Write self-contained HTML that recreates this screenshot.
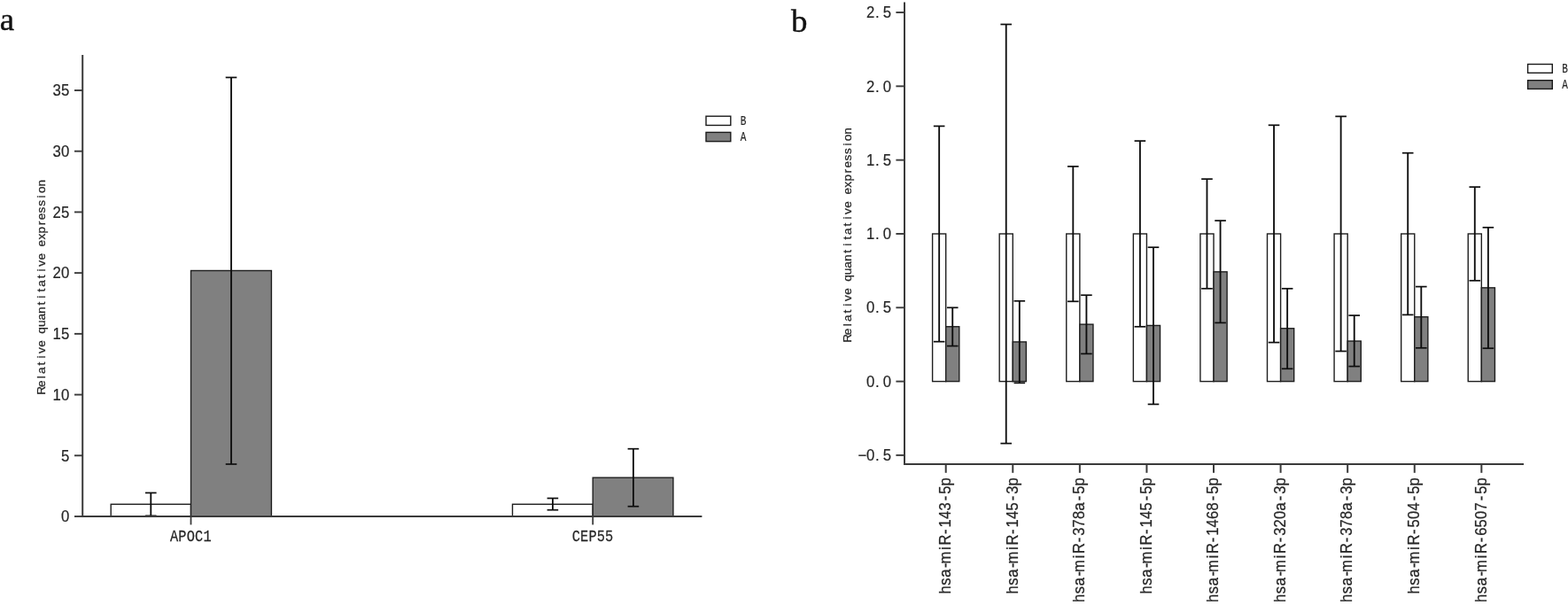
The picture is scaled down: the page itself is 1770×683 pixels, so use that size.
<!DOCTYPE html>
<html lang="en">
<head>
<meta charset="utf-8">
<title>Relative quantitative expression</title>
<style>
html,body{margin:0;padding:0;background:#fff;}
body{width:1770px;height:683px;overflow:hidden;}
svg{display:block;}
text{white-space:pre;}
</style>
</head>
<body>
<svg width="1770" height="683" viewBox="0 0 1770 683">
<rect x="0" y="0" width="1770" height="683" fill="#ffffff"/>
<text x="-0.3" y="33.5" font-family='"Liberation Serif", serif' font-size="36.8" fill="#111" stroke="#111" stroke-width="0.4">a</text>
<text transform="translate(892.9 35.9) scale(1.04 1)" x="0" y="0" font-family='"Liberation Serif", serif' font-size="35.5" fill="#111" stroke="#111" stroke-width="0.4">b</text>
<rect x="125.2" y="569.26" width="90.3" height="13.74" fill="#fff" stroke="#1e1e1e" stroke-width="1.4"/>
<rect x="215.5" y="305.5" width="90.9" height="277.5" fill="#808080" stroke="#1e1e1e" stroke-width="1.4"/>
<rect x="578.5" y="569.26" width="90.7" height="13.74" fill="#fff" stroke="#1e1e1e" stroke-width="1.4"/>
<rect x="669.2" y="539.2" width="90.7" height="43.8" fill="#808080" stroke="#1e1e1e" stroke-width="1.4"/>
<line x1="170.3" y1="556.4" x2="170.3" y2="582.3" stroke="#0d0d0d" stroke-width="1.85" stroke-linecap="butt"/>
<line x1="164" y1="556.4" x2="176.6" y2="556.4" stroke="#0d0d0d" stroke-width="1.7" stroke-linecap="butt"/>
<line x1="164" y1="582.3" x2="176.6" y2="582.3" stroke="#0d0d0d" stroke-width="1.7" stroke-linecap="butt"/>
<line x1="261" y1="87.45" x2="261" y2="524" stroke="#0d0d0d" stroke-width="1.85" stroke-linecap="butt"/>
<line x1="254.7" y1="87.45" x2="267.3" y2="87.45" stroke="#0d0d0d" stroke-width="1.7" stroke-linecap="butt"/>
<line x1="254.7" y1="524" x2="267.3" y2="524" stroke="#0d0d0d" stroke-width="1.7" stroke-linecap="butt"/>
<line x1="623.9" y1="562.5" x2="623.9" y2="575.7" stroke="#0d0d0d" stroke-width="1.85" stroke-linecap="butt"/>
<line x1="617.6" y1="562.5" x2="630.2" y2="562.5" stroke="#0d0d0d" stroke-width="1.7" stroke-linecap="butt"/>
<line x1="617.6" y1="575.7" x2="630.2" y2="575.7" stroke="#0d0d0d" stroke-width="1.7" stroke-linecap="butt"/>
<line x1="714.9" y1="506.7" x2="714.9" y2="571.7" stroke="#0d0d0d" stroke-width="1.85" stroke-linecap="butt"/>
<line x1="708.6" y1="506.7" x2="721.2" y2="506.7" stroke="#0d0d0d" stroke-width="1.7" stroke-linecap="butt"/>
<line x1="708.6" y1="571.7" x2="721.2" y2="571.7" stroke="#0d0d0d" stroke-width="1.7" stroke-linecap="butt"/>
<line x1="93.2" y1="62.1" x2="93.2" y2="584" stroke="#3a3a3a" stroke-width="2" stroke-linecap="butt"/>
<line x1="92.2" y1="583" x2="792.4" y2="583" stroke="#3a3a3a" stroke-width="2" stroke-linecap="butt"/>
<line x1="84" y1="583" x2="93.2" y2="583" stroke="#3a3a3a" stroke-width="1.9" stroke-linecap="butt"/>
<text transform="translate(78.3 589.35) scale(0.93 1)" x="-5.03" y="0" font-family='"Liberation Sans", sans-serif' font-size="18" fill="#262626" stroke="#262626" stroke-width="0.2" text-anchor="middle">0</text>
<line x1="84" y1="514.29" x2="93.2" y2="514.29" stroke="#3a3a3a" stroke-width="1.9" stroke-linecap="butt"/>
<text transform="translate(78.3 520.64) scale(0.93 1)" x="-5.03" y="0" font-family='"Liberation Sans", sans-serif' font-size="18" fill="#262626" stroke="#262626" stroke-width="0.2" text-anchor="middle">5</text>
<line x1="84" y1="445.57" x2="93.2" y2="445.57" stroke="#3a3a3a" stroke-width="1.9" stroke-linecap="butt"/>
<text transform="translate(78.3 451.92) scale(0.93 1)" x="-15.08 -5.03" y="0" font-family='"Liberation Sans", sans-serif' font-size="18" fill="#262626" stroke="#262626" stroke-width="0.2" text-anchor="middle">10</text>
<line x1="84" y1="376.86" x2="93.2" y2="376.86" stroke="#3a3a3a" stroke-width="1.9" stroke-linecap="butt"/>
<text transform="translate(78.3 383.21) scale(0.93 1)" x="-15.08 -5.03" y="0" font-family='"Liberation Sans", sans-serif' font-size="18" fill="#262626" stroke="#262626" stroke-width="0.2" text-anchor="middle">15</text>
<line x1="84" y1="308.14" x2="93.2" y2="308.14" stroke="#3a3a3a" stroke-width="1.9" stroke-linecap="butt"/>
<text transform="translate(78.3 314.49) scale(0.93 1)" x="-15.08 -5.03" y="0" font-family='"Liberation Sans", sans-serif' font-size="18" fill="#262626" stroke="#262626" stroke-width="0.2" text-anchor="middle">20</text>
<line x1="84" y1="239.43" x2="93.2" y2="239.43" stroke="#3a3a3a" stroke-width="1.9" stroke-linecap="butt"/>
<text transform="translate(78.3 245.78) scale(0.93 1)" x="-15.08 -5.03" y="0" font-family='"Liberation Sans", sans-serif' font-size="18" fill="#262626" stroke="#262626" stroke-width="0.2" text-anchor="middle">25</text>
<line x1="84" y1="170.71" x2="93.2" y2="170.71" stroke="#3a3a3a" stroke-width="1.9" stroke-linecap="butt"/>
<text transform="translate(78.3 177.06) scale(0.93 1)" x="-15.08 -5.03" y="0" font-family='"Liberation Sans", sans-serif' font-size="18" fill="#262626" stroke="#262626" stroke-width="0.2" text-anchor="middle">30</text>
<line x1="84" y1="102" x2="93.2" y2="102" stroke="#3a3a3a" stroke-width="1.9" stroke-linecap="butt"/>
<text transform="translate(78.3 108.35) scale(0.93 1)" x="-15.08 -5.03" y="0" font-family='"Liberation Sans", sans-serif' font-size="18" fill="#262626" stroke="#262626" stroke-width="0.2" text-anchor="middle">35</text>
<line x1="215.5" y1="583" x2="215.5" y2="592.4" stroke="#3a3a3a" stroke-width="1.8" stroke-linecap="butt"/>
<text transform="translate(215.3 610.7) scale(0.8 1)" x="-23.37 -11.69 0 11.69 23.37" y="0" font-family='"Liberation Mono", monospace' font-size="19.1" fill="#262626" stroke="#262626" stroke-width="0.25" text-anchor="middle">APOC1</text>
<line x1="669.2" y1="583" x2="669.2" y2="592.4" stroke="#3a3a3a" stroke-width="1.8" stroke-linecap="butt"/>
<text transform="translate(669 610.7) scale(0.8 1)" x="-23.37 -11.69 0 11.69 23.37" y="0" font-family='"Liberation Mono", monospace' font-size="19.1" fill="#262626" stroke="#262626" stroke-width="0.25" text-anchor="middle">CEP55</text>
<text transform="translate(51.2 323.8) rotate(-90)" x="-117.02 -109.47 -101.92 -94.38 -86.82 -79.28 -71.72 -64.17 -56.62 -49.08 -41.53 -33.97 -26.42 -18.88 -11.33 -3.78 3.78 11.33 18.87 26.42 33.98 41.52 49.08 56.62 64.17 71.73 79.27 86.83 94.37 101.92 109.48 117.02" y="0" font-family='"Liberation Sans", sans-serif' font-size="13.6" fill="#262626" stroke="#262626" stroke-width="0.25" text-anchor="middle">Relative quantitative expression</text>
<rect x="797" y="131.2" width="27.8" height="10.25" fill="#fff" stroke="#1a1a1a" stroke-width="1.4"/>
<rect x="797" y="149.4" width="27.8" height="10.25" fill="#808080" stroke="#1a1a1a" stroke-width="1.4"/>
<text transform="translate(835.7 140.6) scale(0.8 1)" x="4.19" y="0" font-family='"Liberation Mono", monospace' font-size="13.8" fill="#262626" stroke="#262626" stroke-width="0.15" text-anchor="middle">B</text>
<text transform="translate(835.7 159.2) scale(0.8 1)" x="4.19" y="0" font-family='"Liberation Mono", monospace' font-size="13.8" fill="#262626" stroke="#262626" stroke-width="0.15" text-anchor="middle">A</text>
<rect x="1052.6" y="263.97" width="15.1" height="166.63" fill="#fff" stroke="#1e1e1e" stroke-width="1.4"/>
<rect x="1067.7" y="368.75" width="15.1" height="61.85" fill="#808080" stroke="#1e1e1e" stroke-width="1.4"/>
<line x1="1060.15" y1="142.4" x2="1060.15" y2="385.7" stroke="#0d0d0d" stroke-width="1.85" stroke-linecap="butt"/>
<line x1="1053.85" y1="142.4" x2="1066.45" y2="142.4" stroke="#0d0d0d" stroke-width="1.7" stroke-linecap="butt"/>
<line x1="1053.85" y1="385.7" x2="1066.45" y2="385.7" stroke="#0d0d0d" stroke-width="1.7" stroke-linecap="butt"/>
<line x1="1075.25" y1="347.3" x2="1075.25" y2="390.6" stroke="#0d0d0d" stroke-width="1.85" stroke-linecap="butt"/>
<line x1="1068.95" y1="347.3" x2="1081.55" y2="347.3" stroke="#0d0d0d" stroke-width="1.7" stroke-linecap="butt"/>
<line x1="1068.95" y1="390.6" x2="1081.55" y2="390.6" stroke="#0d0d0d" stroke-width="1.7" stroke-linecap="butt"/>
<line x1="1067.7" y1="524.1" x2="1067.7" y2="533.8" stroke="#3a3a3a" stroke-width="2" stroke-linecap="butt"/>
<text transform="translate(1073 539.1) rotate(-90) scale(0.94 1)" x="-135 -125 -115 -105.6 -96.3 -85 -75 -65 -55 -45 -35 -25 -15 -5" y="0" font-family='"Liberation Sans", sans-serif' font-size="17.6" fill="#262626" stroke="#262626" stroke-width="0.25" text-anchor="middle">hsa-miR-143-5p</text>
<rect x="1128.18" y="263.97" width="15.1" height="166.63" fill="#fff" stroke="#1e1e1e" stroke-width="1.4"/>
<rect x="1143.28" y="385.95" width="15.1" height="44.65" fill="#808080" stroke="#1e1e1e" stroke-width="1.4"/>
<line x1="1135.73" y1="27.5" x2="1135.73" y2="500.6" stroke="#0d0d0d" stroke-width="1.85" stroke-linecap="butt"/>
<line x1="1129.43" y1="27.5" x2="1142.03" y2="27.5" stroke="#0d0d0d" stroke-width="1.7" stroke-linecap="butt"/>
<line x1="1129.43" y1="500.6" x2="1142.03" y2="500.6" stroke="#0d0d0d" stroke-width="1.7" stroke-linecap="butt"/>
<line x1="1150.83" y1="339.8" x2="1150.83" y2="432.3" stroke="#0d0d0d" stroke-width="1.85" stroke-linecap="butt"/>
<line x1="1144.53" y1="339.8" x2="1157.13" y2="339.8" stroke="#0d0d0d" stroke-width="1.7" stroke-linecap="butt"/>
<line x1="1144.53" y1="432.3" x2="1157.13" y2="432.3" stroke="#0d0d0d" stroke-width="1.7" stroke-linecap="butt"/>
<line x1="1143.28" y1="524.1" x2="1143.28" y2="533.8" stroke="#3a3a3a" stroke-width="2" stroke-linecap="butt"/>
<text transform="translate(1148.58 539.1) rotate(-90) scale(0.94 1)" x="-135 -125 -115 -105.6 -96.3 -85 -75 -65 -55 -45 -35 -25 -15 -5" y="0" font-family='"Liberation Sans", sans-serif' font-size="17.6" fill="#262626" stroke="#262626" stroke-width="0.25" text-anchor="middle">hsa-miR-145-3p</text>
<rect x="1203.76" y="263.97" width="15.1" height="166.63" fill="#fff" stroke="#1e1e1e" stroke-width="1.4"/>
<rect x="1218.86" y="366.15" width="15.1" height="64.45" fill="#808080" stroke="#1e1e1e" stroke-width="1.4"/>
<line x1="1211.31" y1="187.9" x2="1211.31" y2="340.3" stroke="#0d0d0d" stroke-width="1.85" stroke-linecap="butt"/>
<line x1="1205.01" y1="187.9" x2="1217.61" y2="187.9" stroke="#0d0d0d" stroke-width="1.7" stroke-linecap="butt"/>
<line x1="1205.01" y1="340.3" x2="1217.61" y2="340.3" stroke="#0d0d0d" stroke-width="1.7" stroke-linecap="butt"/>
<line x1="1226.41" y1="333.2" x2="1226.41" y2="399.4" stroke="#0d0d0d" stroke-width="1.85" stroke-linecap="butt"/>
<line x1="1220.11" y1="333.2" x2="1232.71" y2="333.2" stroke="#0d0d0d" stroke-width="1.7" stroke-linecap="butt"/>
<line x1="1220.11" y1="399.4" x2="1232.71" y2="399.4" stroke="#0d0d0d" stroke-width="1.7" stroke-linecap="butt"/>
<line x1="1218.86" y1="524.1" x2="1218.86" y2="533.8" stroke="#3a3a3a" stroke-width="2" stroke-linecap="butt"/>
<text transform="translate(1224.16 539.1) rotate(-90) scale(0.94 1)" x="-145 -135 -125 -115.6 -106.3 -95 -85 -75 -65 -55 -45 -35 -25 -15 -5" y="0" font-family='"Liberation Sans", sans-serif' font-size="17.6" fill="#262626" stroke="#262626" stroke-width="0.25" text-anchor="middle">hsa-miR-378a-5p</text>
<rect x="1279.34" y="263.97" width="15.1" height="166.63" fill="#fff" stroke="#1e1e1e" stroke-width="1.4"/>
<rect x="1294.44" y="367.45" width="15.1" height="63.15" fill="#808080" stroke="#1e1e1e" stroke-width="1.4"/>
<line x1="1286.89" y1="159.1" x2="1286.89" y2="368.8" stroke="#0d0d0d" stroke-width="1.85" stroke-linecap="butt"/>
<line x1="1280.59" y1="159.1" x2="1293.19" y2="159.1" stroke="#0d0d0d" stroke-width="1.7" stroke-linecap="butt"/>
<line x1="1280.59" y1="368.8" x2="1293.19" y2="368.8" stroke="#0d0d0d" stroke-width="1.7" stroke-linecap="butt"/>
<line x1="1301.99" y1="279.2" x2="1301.99" y2="456.4" stroke="#0d0d0d" stroke-width="1.85" stroke-linecap="butt"/>
<line x1="1295.69" y1="279.2" x2="1308.29" y2="279.2" stroke="#0d0d0d" stroke-width="1.7" stroke-linecap="butt"/>
<line x1="1295.69" y1="456.4" x2="1308.29" y2="456.4" stroke="#0d0d0d" stroke-width="1.7" stroke-linecap="butt"/>
<line x1="1294.44" y1="524.1" x2="1294.44" y2="533.8" stroke="#3a3a3a" stroke-width="2" stroke-linecap="butt"/>
<text transform="translate(1299.74 539.1) rotate(-90) scale(0.94 1)" x="-135 -125 -115 -105.6 -96.3 -85 -75 -65 -55 -45 -35 -25 -15 -5" y="0" font-family='"Liberation Sans", sans-serif' font-size="17.6" fill="#262626" stroke="#262626" stroke-width="0.25" text-anchor="middle">hsa-miR-145-5p</text>
<rect x="1354.92" y="263.97" width="15.1" height="166.63" fill="#fff" stroke="#1e1e1e" stroke-width="1.4"/>
<rect x="1370.02" y="306.85" width="15.1" height="123.75" fill="#808080" stroke="#1e1e1e" stroke-width="1.4"/>
<line x1="1362.47" y1="202.1" x2="1362.47" y2="325.8" stroke="#0d0d0d" stroke-width="1.85" stroke-linecap="butt"/>
<line x1="1356.17" y1="202.1" x2="1368.77" y2="202.1" stroke="#0d0d0d" stroke-width="1.7" stroke-linecap="butt"/>
<line x1="1356.17" y1="325.8" x2="1368.77" y2="325.8" stroke="#0d0d0d" stroke-width="1.7" stroke-linecap="butt"/>
<line x1="1377.57" y1="249.1" x2="1377.57" y2="364.4" stroke="#0d0d0d" stroke-width="1.85" stroke-linecap="butt"/>
<line x1="1371.27" y1="249.1" x2="1383.87" y2="249.1" stroke="#0d0d0d" stroke-width="1.7" stroke-linecap="butt"/>
<line x1="1371.27" y1="364.4" x2="1383.87" y2="364.4" stroke="#0d0d0d" stroke-width="1.7" stroke-linecap="butt"/>
<line x1="1370.02" y1="524.1" x2="1370.02" y2="533.8" stroke="#3a3a3a" stroke-width="2" stroke-linecap="butt"/>
<text transform="translate(1375.32 539.1) rotate(-90) scale(0.94 1)" x="-145 -135 -125 -115.6 -106.3 -95 -85 -75 -65 -55 -45 -35 -25 -15 -5" y="0" font-family='"Liberation Sans", sans-serif' font-size="17.6" fill="#262626" stroke="#262626" stroke-width="0.25" text-anchor="middle">hsa-miR-1468-5p</text>
<rect x="1430.5" y="263.97" width="15.1" height="166.63" fill="#fff" stroke="#1e1e1e" stroke-width="1.4"/>
<rect x="1445.6" y="370.75" width="15.1" height="59.85" fill="#808080" stroke="#1e1e1e" stroke-width="1.4"/>
<line x1="1438.05" y1="141.3" x2="1438.05" y2="386.6" stroke="#0d0d0d" stroke-width="1.85" stroke-linecap="butt"/>
<line x1="1431.75" y1="141.3" x2="1444.35" y2="141.3" stroke="#0d0d0d" stroke-width="1.7" stroke-linecap="butt"/>
<line x1="1431.75" y1="386.6" x2="1444.35" y2="386.6" stroke="#0d0d0d" stroke-width="1.7" stroke-linecap="butt"/>
<line x1="1453.15" y1="325.8" x2="1453.15" y2="416.3" stroke="#0d0d0d" stroke-width="1.85" stroke-linecap="butt"/>
<line x1="1446.85" y1="325.8" x2="1459.45" y2="325.8" stroke="#0d0d0d" stroke-width="1.7" stroke-linecap="butt"/>
<line x1="1446.85" y1="416.3" x2="1459.45" y2="416.3" stroke="#0d0d0d" stroke-width="1.7" stroke-linecap="butt"/>
<line x1="1445.6" y1="524.1" x2="1445.6" y2="533.8" stroke="#3a3a3a" stroke-width="2" stroke-linecap="butt"/>
<text transform="translate(1450.9 539.1) rotate(-90) scale(0.94 1)" x="-145 -135 -125 -115.6 -106.3 -95 -85 -75 -65 -55 -45 -35 -25 -15 -5" y="0" font-family='"Liberation Sans", sans-serif' font-size="17.6" fill="#262626" stroke="#262626" stroke-width="0.25" text-anchor="middle">hsa-miR-320a-3p</text>
<rect x="1506.08" y="263.97" width="15.1" height="166.63" fill="#fff" stroke="#1e1e1e" stroke-width="1.4"/>
<rect x="1521.18" y="385.05" width="15.1" height="45.55" fill="#808080" stroke="#1e1e1e" stroke-width="1.4"/>
<line x1="1513.63" y1="131.4" x2="1513.63" y2="396.5" stroke="#0d0d0d" stroke-width="1.85" stroke-linecap="butt"/>
<line x1="1507.33" y1="131.4" x2="1519.93" y2="131.4" stroke="#0d0d0d" stroke-width="1.7" stroke-linecap="butt"/>
<line x1="1507.33" y1="396.5" x2="1519.93" y2="396.5" stroke="#0d0d0d" stroke-width="1.7" stroke-linecap="butt"/>
<line x1="1528.73" y1="356.1" x2="1528.73" y2="413.6" stroke="#0d0d0d" stroke-width="1.85" stroke-linecap="butt"/>
<line x1="1522.43" y1="356.1" x2="1535.03" y2="356.1" stroke="#0d0d0d" stroke-width="1.7" stroke-linecap="butt"/>
<line x1="1522.43" y1="413.6" x2="1535.03" y2="413.6" stroke="#0d0d0d" stroke-width="1.7" stroke-linecap="butt"/>
<line x1="1521.18" y1="524.1" x2="1521.18" y2="533.8" stroke="#3a3a3a" stroke-width="2" stroke-linecap="butt"/>
<text transform="translate(1526.48 539.1) rotate(-90) scale(0.94 1)" x="-145 -135 -125 -115.6 -106.3 -95 -85 -75 -65 -55 -45 -35 -25 -15 -5" y="0" font-family='"Liberation Sans", sans-serif' font-size="17.6" fill="#262626" stroke="#262626" stroke-width="0.25" text-anchor="middle">hsa-miR-378a-3p</text>
<rect x="1581.66" y="263.97" width="15.1" height="166.63" fill="#fff" stroke="#1e1e1e" stroke-width="1.4"/>
<rect x="1596.76" y="357.75" width="15.1" height="72.85" fill="#808080" stroke="#1e1e1e" stroke-width="1.4"/>
<line x1="1589.21" y1="172.7" x2="1589.21" y2="355.4" stroke="#0d0d0d" stroke-width="1.85" stroke-linecap="butt"/>
<line x1="1582.91" y1="172.7" x2="1595.51" y2="172.7" stroke="#0d0d0d" stroke-width="1.7" stroke-linecap="butt"/>
<line x1="1582.91" y1="355.4" x2="1595.51" y2="355.4" stroke="#0d0d0d" stroke-width="1.7" stroke-linecap="butt"/>
<line x1="1604.31" y1="323.6" x2="1604.31" y2="392.8" stroke="#0d0d0d" stroke-width="1.85" stroke-linecap="butt"/>
<line x1="1598.01" y1="323.6" x2="1610.61" y2="323.6" stroke="#0d0d0d" stroke-width="1.7" stroke-linecap="butt"/>
<line x1="1598.01" y1="392.8" x2="1610.61" y2="392.8" stroke="#0d0d0d" stroke-width="1.7" stroke-linecap="butt"/>
<line x1="1596.76" y1="524.1" x2="1596.76" y2="533.8" stroke="#3a3a3a" stroke-width="2" stroke-linecap="butt"/>
<text transform="translate(1602.06 539.1) rotate(-90) scale(0.94 1)" x="-135 -125 -115 -105.6 -96.3 -85 -75 -65 -55 -45 -35 -25 -15 -5" y="0" font-family='"Liberation Sans", sans-serif' font-size="17.6" fill="#262626" stroke="#262626" stroke-width="0.25" text-anchor="middle">hsa-miR-504-5p</text>
<rect x="1657.24" y="263.97" width="15.1" height="166.63" fill="#fff" stroke="#1e1e1e" stroke-width="1.4"/>
<rect x="1672.34" y="324.85" width="15.1" height="105.75" fill="#808080" stroke="#1e1e1e" stroke-width="1.4"/>
<line x1="1664.79" y1="211.1" x2="1664.79" y2="316.8" stroke="#0d0d0d" stroke-width="1.85" stroke-linecap="butt"/>
<line x1="1658.49" y1="211.1" x2="1671.09" y2="211.1" stroke="#0d0d0d" stroke-width="1.7" stroke-linecap="butt"/>
<line x1="1658.49" y1="316.8" x2="1671.09" y2="316.8" stroke="#0d0d0d" stroke-width="1.7" stroke-linecap="butt"/>
<line x1="1679.89" y1="256.8" x2="1679.89" y2="393.2" stroke="#0d0d0d" stroke-width="1.85" stroke-linecap="butt"/>
<line x1="1673.59" y1="256.8" x2="1686.19" y2="256.8" stroke="#0d0d0d" stroke-width="1.7" stroke-linecap="butt"/>
<line x1="1673.59" y1="393.2" x2="1686.19" y2="393.2" stroke="#0d0d0d" stroke-width="1.7" stroke-linecap="butt"/>
<line x1="1672.34" y1="524.1" x2="1672.34" y2="533.8" stroke="#3a3a3a" stroke-width="2" stroke-linecap="butt"/>
<text transform="translate(1677.64 539.1) rotate(-90) scale(0.94 1)" x="-145 -135 -125 -115.6 -106.3 -95 -85 -75 -65 -55 -45 -35 -25 -15 -5" y="0" font-family='"Liberation Sans", sans-serif' font-size="17.6" fill="#262626" stroke="#262626" stroke-width="0.25" text-anchor="middle">hsa-miR-6507-5p</text>
<line x1="1021" y1="2.5" x2="1021" y2="525.1" stroke="#3a3a3a" stroke-width="2" stroke-linecap="butt"/>
<line x1="1020" y1="524.1" x2="1720" y2="524.1" stroke="#3a3a3a" stroke-width="2" stroke-linecap="butt"/>
<line x1="1011.4" y1="513.91" x2="1021" y2="513.91" stroke="#3a3a3a" stroke-width="1.9" stroke-linecap="butt"/>
<text transform="translate(1006.1 520.12) scale(0.93 1)" x="-35.19 -25.13 -17.09 -5.03" y="0" font-family='"Liberation Sans", sans-serif' font-size="18" fill="#262626" stroke="#262626" stroke-width="0.2" text-anchor="middle">−0.5</text>
<line x1="1011.4" y1="430.6" x2="1021" y2="430.6" stroke="#3a3a3a" stroke-width="1.9" stroke-linecap="butt"/>
<text transform="translate(1006.1 436.8) scale(0.93 1)" x="-25.13 -17.09 -5.03" y="0" font-family='"Liberation Sans", sans-serif' font-size="18" fill="#262626" stroke="#262626" stroke-width="0.2" text-anchor="middle">0.0</text>
<line x1="1011.4" y1="347.29" x2="1021" y2="347.29" stroke="#3a3a3a" stroke-width="1.9" stroke-linecap="butt"/>
<text transform="translate(1006.1 353.49) scale(0.93 1)" x="-25.13 -17.09 -5.03" y="0" font-family='"Liberation Sans", sans-serif' font-size="18" fill="#262626" stroke="#262626" stroke-width="0.2" text-anchor="middle">0.5</text>
<line x1="1011.4" y1="263.97" x2="1021" y2="263.97" stroke="#3a3a3a" stroke-width="1.9" stroke-linecap="butt"/>
<text transform="translate(1006.1 270.17) scale(0.93 1)" x="-25.13 -17.09 -5.03" y="0" font-family='"Liberation Sans", sans-serif' font-size="18" fill="#262626" stroke="#262626" stroke-width="0.2" text-anchor="middle">1.0</text>
<line x1="1011.4" y1="180.66" x2="1021" y2="180.66" stroke="#3a3a3a" stroke-width="1.9" stroke-linecap="butt"/>
<text transform="translate(1006.1 186.86) scale(0.93 1)" x="-25.13 -17.09 -5.03" y="0" font-family='"Liberation Sans", sans-serif' font-size="18" fill="#262626" stroke="#262626" stroke-width="0.2" text-anchor="middle">1.5</text>
<line x1="1011.4" y1="97.34" x2="1021" y2="97.34" stroke="#3a3a3a" stroke-width="1.9" stroke-linecap="butt"/>
<text transform="translate(1006.1 103.54) scale(0.93 1)" x="-25.13 -17.09 -5.03" y="0" font-family='"Liberation Sans", sans-serif' font-size="18" fill="#262626" stroke="#262626" stroke-width="0.2" text-anchor="middle">2.0</text>
<line x1="1011.4" y1="14.03" x2="1021" y2="14.03" stroke="#3a3a3a" stroke-width="1.9" stroke-linecap="butt"/>
<text transform="translate(1006.1 20.23) scale(0.93 1)" x="-25.13 -17.09 -5.03" y="0" font-family='"Liberation Sans", sans-serif' font-size="18" fill="#262626" stroke="#262626" stroke-width="0.2" text-anchor="middle">2.5</text>
<text transform="translate(960.7 264.9) rotate(-90)" x="-117.02 -109.47 -101.92 -94.38 -86.82 -79.28 -71.72 -64.17 -56.62 -49.08 -41.53 -33.97 -26.42 -18.88 -11.33 -3.78 3.78 11.33 18.87 26.42 33.98 41.52 49.08 56.62 64.17 71.73 79.27 86.83 94.37 101.92 109.48 117.02" y="0" font-family='"Liberation Sans", sans-serif' font-size="13.6" fill="#262626" stroke="#262626" stroke-width="0.25" text-anchor="middle">Relative quantitative expression</text>
<rect x="1724.6" y="72.5" width="27.7" height="9.8" fill="#fff" stroke="#1a1a1a" stroke-width="1.4"/>
<rect x="1724.6" y="90.7" width="27.7" height="9.7" fill="#808080" stroke="#1a1a1a" stroke-width="1.4"/>
<text transform="translate(1763.1 81.9) scale(0.8 1)" x="4.19" y="0" font-family='"Liberation Mono", monospace' font-size="13.8" fill="#262626" stroke="#262626" stroke-width="0.15" text-anchor="middle">B</text>
<text transform="translate(1763.1 100) scale(0.8 1)" x="4.19" y="0" font-family='"Liberation Mono", monospace' font-size="13.8" fill="#262626" stroke="#262626" stroke-width="0.15" text-anchor="middle">A</text>
</svg>
</body>
</html>
